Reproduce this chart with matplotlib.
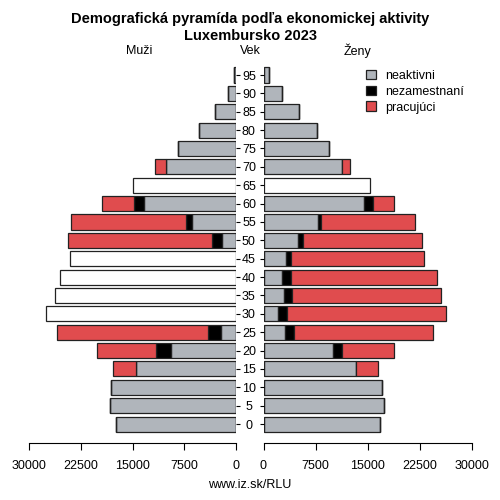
import numpy as np
import matplotlib
matplotlib.use("Agg")
import matplotlib.pyplot as plt
from matplotlib.patches import Patch

plt.rcParams['font.family'] = ['Liberation Sans', 'DejaVu Sans']

vek = [0, 5, 10, 15, 20, 25, 30, 35, 40, 45, 50, 55, 60, 65, 70, 75, 80, 85, 90, 95]

# muzi - nan = bez rozdelenia (biely stlpec s celkom)
m_neakt = [17350, 18210, 18160, 14490, 9370, 2130, np.nan, np.nan, np.nan, np.nan,
           2030, 6330, 13380, np.nan, 10100, 8450, 5400, 3000, 1200, 300]
m_nezam = [0, 0, 0, 0, 2220, 1930, np.nan, np.nan, np.nan, np.nan,
           1400, 960, 1450, np.nan, 0, 0, 0, 0, 0, 0]
m_prac = [0, 0, 0, 3290, 8510, 21840, np.nan, np.nan, np.nan, np.nan,
          20920, 16580, 4550, np.nan, 1600, 0, 0, 0, 0, 0]
m_spolu = [0, 0, 0, 0, 0, 0, 27490, 26190, 25460, 24010,
           0, 0, 0, 14880, 0, 0, 0, 0, 0, 0]

# zeny
z_neakt = [16760, 17380, 17140, 13380, 9970, 3080, 2070, 2980, 2650, 3270,
           5000, 7850, 14490, np.nan, 11360, 9480, 7660, 5060, 2690, 770]
z_nezam = [0, 0, 0, 0, 1300, 1300, 1300, 1110, 1300, 720,
           680, 430, 1350, np.nan, 0, 0, 0, 0, 0, 0]
z_prac = [0, 0, 0, 3090, 7560, 20040, 22930, 21580, 21050, 19130,
          17240, 13630, 2950, np.nan, 1110, 0, 0, 0, 0, 0]
z_spolu = [0] * 13 + [15400] + [0] * 6

farby = ['#b0b5bb', '#000000', '#e04c4e']
nazvy = ['neaktivni', 'nezamestnaní', 'pracujúci']

fig = plt.figure(figsize=(5, 5), dpi=100)
axL = fig.add_axes([0.058, 0.114, 0.414, 0.754])
axR = fig.add_axes([0.527, 0.114, 0.416, 0.754])

y = np.arange(len(vek))
h = 0.82


def kresli(ax, neakt, nezam, prac, spolu):
    neakt = np.nan_to_num(np.array(neakt, dtype=float))
    nezam = np.nan_to_num(np.array(nezam, dtype=float))
    prac = np.nan_to_num(np.array(prac, dtype=float))
    spolu = np.array(spolu, dtype=float)
    kw = dict(height=h, edgecolor='#222222', linewidth=0.9)
    ax.barh(y, neakt, color=farby[0], **kw)
    ax.barh(y, nezam, left=neakt, color=farby[1], **kw)
    ax.barh(y, prac, left=neakt + nezam, color=farby[2], **kw)
    ax.barh(y, spolu, color='white', **kw)
    ax.set_xlim(0, 30000)
    ax.set_ylim(-1.03, 19.49)
    ax.set_xticks([0, 7500, 15000, 22500, 30000])
    ax.set_xticklabels(['0', '7500', '15000', '22500', '30000'])
    for s in ['top', 'right', 'left']:
        ax.spines[s].set_visible(False)
    ax.spines['bottom'].set_bounds(0, 30000)
    ax.tick_params(axis='x', length=5, labelsize=9, pad=7)
    ax.set_yticks(y)


kresli(axL, m_neakt, m_nezam, m_prac, m_spolu)
axL.invert_xaxis()
axL.yaxis.tick_right()
axL.set_yticklabels([])
axL.tick_params(axis='y', length=3)

kresli(axR, z_neakt, z_nezam, z_prac, z_spolu)
axR.set_yticklabels([str(v) for v in vek], ha='center')
axR.tick_params(axis='y', length=3, labelsize=9, pad=7.5)

ruky = [Patch(facecolor=c, edgecolor='#222222', linewidth=0.9) for c in farby]
axR.legend(ruky, nazvy, loc='upper right', bbox_to_anchor=(1.02, 1.02), frameon=False,
           fontsize=9, handlelength=0.8, handleheight=0.8, labelspacing=0.3, handletextpad=0.8)

fig.text(0.5, 0.962, 'Demografická pyramída podľa ekonomickej aktivity', ha='center', va='center',
         fontsize=10.5, fontweight='bold')
fig.text(0.5, 0.927, 'Luxembursko 2023', ha='center', va='center', fontsize=10.5, fontweight='bold')
fig.text(0.278, 0.898, 'Muži', ha='center', va='center', fontsize=9)
fig.text(0.5, 0.898, 'Vek', ha='center', va='center', fontsize=9)
fig.text(0.714, 0.898, 'Ženy', ha='center', va='center', fontsize=9)
fig.text(0.5, 0.03, 'www.iz.sk/RLU', ha='center', va='center', fontsize=9)

fig.savefig('out.png', dpi=100)
